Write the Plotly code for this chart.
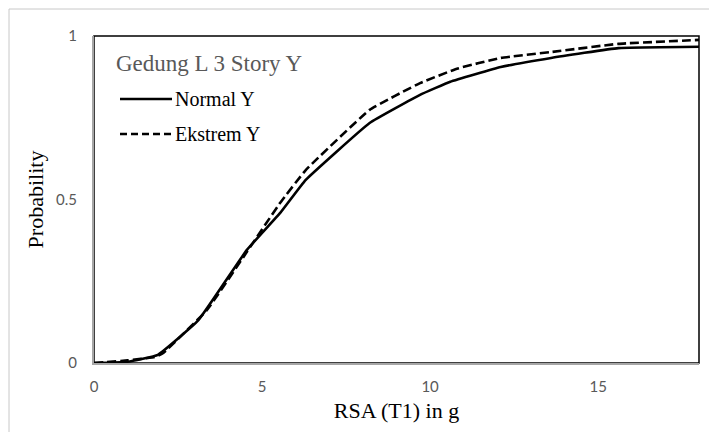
import plotly.graph_objects as go

# Fragility curves: RSA(T1) [g] vs probability of exceedance
normal_x = [0, 1.0, 1.9, 3.1, 4.55, 5.54, 6.3, 8.2, 9.7, 10.6, 12.1, 13.6, 15.6, 18]
normal_p = [0, 0.004, 0.025, 0.13, 0.346, 0.459, 0.56, 0.734, 0.82, 0.86, 0.905, 0.933, 0.963, 0.967]

ekstrem_x = [0, 1.0, 1.8, 2.05, 3.36, 4.55, 5.54, 6.3, 8.2, 9.7, 10.8, 12.1, 13.6, 15.6, 18]
ekstrem_p = [0, 0.008, 0.018, 0.03, 0.162, 0.34, 0.49, 0.59, 0.774, 0.856, 0.9, 0.933, 0.951, 0.976, 0.988]

x_ticks = [0, 5, 10, 15]
y_ticks = [0, 0.5, 1]
y_tick_text = ["0", "0.5", "1"]

series_names = ["Normal Y", "Ekstrem Y"]
series_dash = ["solid", "9px,4px"]

serif = "Liberation Serif, Times New Roman, serif"
sans = "Lato, Carlito, Calibri, sans-serif"

# plot area in pixels
L, R, T, B = 94, 10, 36, 69
W, H = 709 - L - R, 432 - T - B


def px_x(p):
    return (p - L) / W


def px_y(p):
    return (432 - B - p) / H


fig = go.Figure()
for xs, ys, name, dash in zip([normal_x, ekstrem_x], [normal_p, ekstrem_p],
                              series_names, series_dash):
    fig.add_trace(go.Scatter(
        x=xs, y=ys, mode="lines", name=name, showlegend=False,
        line=dict(color="black", width=2.6, dash=dash, shape="spline", smoothing=0.3),
    ))

shapes = [
    # plot-area frame
    dict(type="rect", xref="paper", yref="paper", x0=0, y0=0, x1=1, y1=1,
         line=dict(color="black", width=1.5), layer="below"),
    # outer chart border
    dict(type="rect", xref="paper", yref="paper",
         x0=px_x(9), y0=px_y(440), x1=px_x(715), y1=px_y(9),
         line=dict(color="#c8c8c8", width=1), layer="below"),
]
annotations = [
    dict(text="Gedung L 3 Story Y", xref="paper", yref="paper",
         x=px_x(114), y=px_y(64), xanchor="left", yanchor="middle",
         showarrow=False, font=dict(family=serif, size=23, color="#595959")),
]

# legend drawn inside the plot area
legend_rows = [99, 134]
legend_dash = ["solid", "7px,4px"]
for name, row, dash in zip(series_names, legend_rows, legend_dash):
    shapes.append(dict(type="line", xref="paper", yref="paper",
                       x0=px_x(120), x1=px_x(172), y0=px_y(row), y1=px_y(row),
                       line=dict(color="black", width=2.6, dash=dash)))
    annotations.append(dict(text=name, xref="paper", yref="paper",
                            x=px_x(173), y=px_y(row), xanchor="left", yanchor="middle",
                            showarrow=False,
                            font=dict(family=serif, size=20, color="black")))

fig.update_layout(
    width=709, height=432,
    margin=dict(l=L, r=R, t=T, b=B),
    paper_bgcolor="white", plot_bgcolor="white",
    xaxis=dict(
        range=[0, 18], tickvals=x_ticks, showgrid=False, zeroline=False,
        showline=True, linecolor="#a6a6a6", linewidth=2,
        ticks="outside", ticklen=9, tickcolor="rgba(0,0,0,0)",
        tickfont=dict(family=sans, size=15, color="#595959"),
        title=dict(text="RSA (T1) in g", font=dict(family=serif, size=22, color="black"), standoff=9),
    ),
    yaxis=dict(
        range=[0, 1], tickvals=y_ticks, ticktext=y_tick_text,
        showgrid=False, zeroline=False,
        showline=True, linecolor="#a6a6a6", linewidth=2,
        ticks="outside", ticklen=12, tickcolor="rgba(0,0,0,0)",
        tickfont=dict(family=sans, size=15, color="#595959"),
        title=dict(text="Probability", font=dict(family=serif, size=22, color="black"), standoff=6),
    ),
    shapes=shapes,
    annotations=annotations,
)

fig.write_html("out.html")
